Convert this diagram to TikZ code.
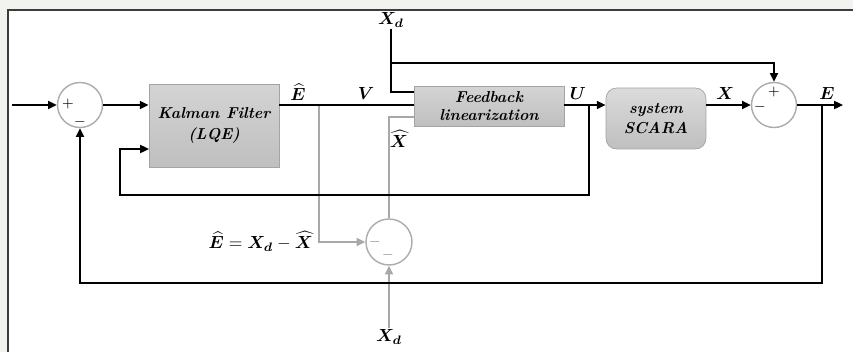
\documentclass[tikz,border=0pt]{standalone}
\definecolor{framegray}{HTML}{F2F2EE}
\definecolor{framedark}{HTML}{3C3C3C}
\definecolor{linegray}{HTML}{A8A8A8}
\definecolor{boxedge}{HTML}{A4A4A4}
\usepackage{tikz}
\usetikzlibrary{
    arrows.meta,
    positioning,
    calc
}
\usepackage{amsmath}
\usepackage{bm}
\tikzstyle{block} = [
    rectangle,
    draw=boxedge,
    top color=gray!34,
    bottom color=gray!50,
    minimum width=2.6cm,
    minimum height=1.66cm,
    align=center,
    font=\small\bfseries\itshape
]
\tikzstyle{plant} = [
    rectangle,
    rounded corners=6pt,
    draw=boxedge,
    top color=gray!28,
    bottom color=gray!50,
    minimum width=2cm,
    minimum height=1.22cm,
    align=center,
    font=\small\bfseries\itshape
]
\tikzstyle{sumnode} = [
    circle,
    draw=gray!65,
    fill=white,
    line width=0.8pt,
    minimum size=0.9cm,
    inner sep=0pt
]
\tikzstyle{sign} = [
    inner sep=0pt,
    font=\footnotesize
]
\tikzstyle{sig} = [
    inner sep=0.5pt
]
\tikzstyle{line} = [
    line width=1.1pt,
    draw=black
]
\tikzstyle{arrow} = [
    -{Triangle[length=5pt,width=4.5pt]},
    line width=1.1pt,
    draw=black
]
\tikzstyle{gline} = [
    line width=1.1pt,
    draw=linegray
]
\tikzstyle{garrow} = [
    -{Triangle[length=5pt,width=4.5pt]},
    line width=1.1pt,
    draw=linegray
]

\begin{document}
\begin{tikzpicture}[x=0.02cm, y=-0.02cm]
        % Frame
        \useasboundingbox (0,0) rectangle (853,352);
        \fill[framegray] (0,0) rectangle (853,352);
        \fill[white] (8,10) rectangle (853,352);
        \draw[framedark, line width=0.6pt] (8,352) -- (8,10) -- (853,10);

        % Blocks
        \node[block] (kalman) at (214,125.5) {
            Kalman Filter\\[1pt]
            (LQE)
        };
        \node[block, minimum width=3cm, minimum height=0.8cm, inner sep=1pt] (feedback) at (489,106) {
            Feedback\\[-1pt]
            linearization
        };
        \node[plant] (scara) at (656,118.5) {
            system\\
            SCARA
        };

        % Summing junctions
        \node[sumnode] (sumin) at (80,105) {};
        \node[sumnode] (sumout) at (774,105) {};
        \node[sumnode, minimum size=0.92cm] (sumest) at (389,242) {};

        % Signs
        \node[sign] (sinp) at (68,104) {$+$};
        \node[sign] (sinm) at (80,122) {$-$};
        \node[sign] (soutp) at (774,92) {$+$};
        \node[sign] (soutm) at (760,107) {$-$};
        \node[sign, text=gray!90] (sestm) at (375,242) {$-$};
        \node[sign, text=gray!90] (sestn) at (388,255) {$-$};

        % Signal labels
        \node[sig] (lehat) at (298,92) {$\widehat{\bm{E}}$};
        \node[sig] (lv) at (366,93) {$\bm{V}$};
        \node[sig] (lu) at (578,93) {$\bm{U}$};
        \node[sig] (lx) at (725,93) {$\bm{X}$};
        \node[sig] (le) at (827,93) {$\bm{E}$};
        \node[sig] (lxhat) at (399,139) {$\widehat{\bm{X}}$};
        \node[sig] (xdtop) at (391,20) {$\bm{X_d}$};
        \node[sig] (xdbot) at (389,337) {$\bm{X_d}$};
        \node[sig, anchor=east] (leq) at (314,241) {$\widehat{\bm{E}}=\bm{X_d}-\widehat{\bm{X}}$};

        % Connection points
        \coordinate (inp) at (12,105);
        \coordinate (eout) at (843,105);
        \coordinate (etap) at (319,105);
        \coordinate (fbxh) at (414,117);
        \coordinate (fbxd) at (414,92);
        \coordinate (xdsplit) at (391,63);
        \coordinate (utap) at (589,105);
        \coordinate (ubot) at (120,195);
        \coordinate (kin) at (149,149);
        \coordinate (errtap) at (822,105);
        \coordinate (ebot) at (80,283);

        % Estimation error (gray)
        \draw[garrow] (etap) |- (sumest);
        \draw[gline] (fbxh) -| (sumest);
        \draw[garrow] (xdbot.north) -- (sumest);

        % Forward path
        \draw[arrow] (inp) -- (sumin);
        \draw[arrow] (sumin) -- (sumin -| kalman.west);
        \draw[line] (kalman.east |- sumin) -- (feedback.west |- sumin);
        \draw[arrow] (feedback.east |- sumin) -- (sumin -| scara.west);
        \draw[arrow] (scara.east |- sumout) -- (sumout);
        \draw[arrow] (sumout) -- (eout);

        % Reference
        \draw[line] (xdtop.south) -- (xdsplit) |- (fbxd);
        \draw[arrow] (xdsplit) -| (sumout);

        % Feedback loops
        \draw[arrow] (utap) |- (ubot) |- (kin);
        \draw[arrow] (errtap) |- (ebot) -- (sumin);
    \end{tikzpicture}
\end{document}
